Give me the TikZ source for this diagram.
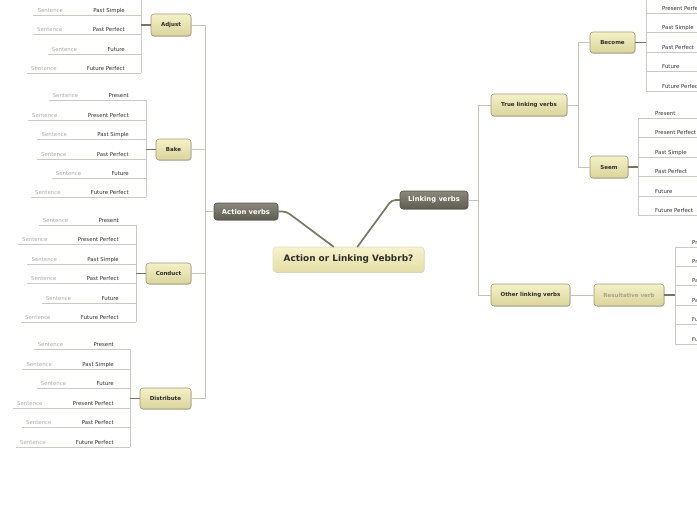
\documentclass[tikz,border=0pt]{standalone}
\usepackage{fontspec}
\setmainfont{DejaVu Sans}
\usetikzlibrary{shadows}
\definecolor{yelTop}{HTML}{F4F1C8}
\definecolor{yelBot}{HTML}{DAD49A}
\definecolor{boxborder}{HTML}{9C987C}
\definecolor{boxtext}{HTML}{2E2E2A}
\definecolor{darkTop}{HTML}{8A887A}
\definecolor{darkBot}{HTML}{5E5C50}
\definecolor{darkborder}{HTML}{55544A}
\definecolor{cenTop}{HTML}{F6F3CE}
\definecolor{cenBot}{HTML}{E4DEA4}
\definecolor{cenborder}{HTML}{E2DEB4}
\definecolor{leafgray}{HTML}{CBCAC2}
\definecolor{branchgray}{HTML}{C6C4B6}
\definecolor{stubdark}{HTML}{77745F}
\definecolor{mainlinecol}{HTML}{7A7763}
\definecolor{sentgray}{HTML}{ADADAD}
\definecolor{tensecol}{HTML}{333333}
\definecolor{resulttext}{HTML}{A8A486}
\newcommand\leafL[5]{%
  \node[tense, anchor=base east] (#1t) at (#2,#4-3) {#5};
  \node[sent, anchor=base east] (#1s) at ([xshift=-30pt]#1t.base west) {Sentence};
  \path (#1s.west) ++(-4,0) coordinate (#1b);
  \coordinate (#1y) at (0,#4);
  \coordinate (#1a) at (#1b |- #1y);
  \coordinate (#1v) at (#3,#4);
  \draw[leafline] (#1a) -- (#1v);
}
\newcommand\leafR[5]{%
  \node[tense, anchor=base west] (#1t) at (#3,#4-3) {#5};
  \coordinate (#1v) at (#2,#4);
  \coordinate (#1e) at (700,#4);
  \draw[leafline] (#1v) -- (#1e);
}
\begin{document}
\begin{tikzpicture}[x=1pt,y=-1pt,
  leafline/.style={draw=leafgray, line width=0.9pt},
  branch/.style={draw=branchgray, line width=0.9pt},
  stub/.style={draw=stubdark, line width=1.3pt},
  mainline/.style={draw=mainlinecol, line width=1.7pt, line cap=round, rounded corners=4pt},
  tense/.style={inner sep=0pt, text=tensecol, font=\fontsize{5.4}{6}\selectfont},
  sent/.style={inner sep=0pt, text=sentgray, font=\fontsize{5.4}{6}\selectfont},
  shadowed/.style={drop shadow={shadow xshift=0.6pt, shadow yshift=-0.8pt, fill=black, opacity=0.18}},
  ybox/.style={shadowed, rounded corners=3pt, draw=boxborder, line width=0.6pt, top color=yelTop, bottom color=yelBot, text=boxtext, font=\bfseries\fontsize{5.5}{6}\selectfont, inner sep=0pt},
  dbox/.style={shadowed, rounded corners=3pt, draw=darkborder, line width=0.6pt, top color=darkTop, bottom color=darkBot, text=white, font=\bfseries\fontsize{6.8}{7}\selectfont, inner sep=0pt},
  cbox/.style={shadowed, rounded corners=3pt, draw=cenborder, line width=0.6pt, top color=cenTop, bottom color=cenBot, text=boxtext, font=\bfseries\fontsize{8.9}{10}\selectfont, inner sep=0pt}
]
\clip (0,0) rectangle (697,520);
\fill[white] (0,0) rectangle (697,520);

% ---------- main nodes
\node[cbox, minimum width=151pt, minimum height=25pt] (cn) at (348.5,259.5) {Action or Linking Vebbrb?};
\node[dbox, minimum width=64pt, minimum height=17pt] (av) at (246,211.5) {Action verbs};
\node[dbox, minimum width=68pt, minimum height=18pt] (lv) at (434,200) {Linking verbs};
\coordinate (c1) at ([xshift=-15pt]cn.north);
\coordinate (c2) at ([xshift=9pt]cn.north);

% ---------- action verbs subtree boxes
\node[ybox, minimum width=40pt, minimum height=22pt] (adj) at (171,25) {Adjust};
\node[ybox, minimum width=35pt, minimum height=21pt] (bake) at (173.5,149.5) {Bake};
\node[ybox, minimum width=45pt, minimum height=21pt] (cond) at (168.5,273.5) {Conduct};
\node[ybox, minimum width=51pt, minimum height=21pt] (dist) at (165.5,398.5) {Distribute};

% ---------- linking verbs subtree boxes
\node[ybox, minimum width=76pt, minimum height=22pt] (tlv) at (529,105) {True linking verbs};
\node[ybox, minimum width=79pt, minimum height=22pt] (olv) at (530.5,295) {Other linking verbs};
\node[ybox, minimum width=45pt, minimum height=21pt] (bec) at (612.5,42.5) {Become};
\node[ybox, minimum width=38pt, minimum height=22pt] (seem) at (609,167) {Seem};
\node[ybox, minimum width=70pt, minimum height=22pt, text=resulttext] (res) at (629,295) {Resultative verb};

% ---------- main connectors
\draw[mainline] (av.east) -- ++(8,0) -- (c1);
\draw[mainline] (lv.west) -- ++(-8,0) -- (c2);

% ---------- action verbs branch
\coordinate (avx) at (205,211.5);
\coordinate (avtop) at (205,25);
\coordinate (avbot) at (205,398.5);
\draw[branch] (av.west) -- (avx);
\draw[branch] (adj.east) -- (avtop) -- (avbot) -- (dist.east);
\draw[branch] (bake.east) -- (bake.east -| avx);
\draw[branch] (cond.east) -- (cond.east -| avx);

% ---------- linking verbs branch
\coordinate (lvx) at (478,200);
\draw[branch] (lv.east) -- (lvx);
\draw[branch] (tlv.west) -- (tlv.west -| lvx) -- (olv.west -| lvx) -- (olv.west);
\coordinate (tlx) at (578,105);
\draw[branch] (tlv.east) -- (tlx);
\draw[branch] (bec.west) -- (bec.west -| tlx) -- (seem.west -| tlx) -- (seem.west);
\draw[branch] (olv.east) -- (res.west);

% ---------- Adjust leaves
\leafL{aj1}{125}{141}{15}{Past Simple}
\leafL{aj2}{125}{141}{34}{Past Perfect}
\leafL{aj3}{125}{141}{54}{Future}
\leafL{aj4}{125}{141}{73}{Future Perfect}
\coordinate (ajtop) at (141,-2);
\draw[leafline] (ajtop) -- (aj4v);
\draw[stub] (adj.west) -- (adj.west -| aj1v);

% ---------- Bake leaves
\leafL{bk1}{129}{146}{100}{Present}
\leafL{bk2}{129}{146}{120}{Present Perfect}
\leafL{bk3}{129}{146}{139}{Past Simple}
\leafL{bk4}{129}{146}{159}{Past Perfect}
\leafL{bk5}{129}{146}{178}{Future}
\leafL{bk6}{129}{146}{197}{Future Perfect}
\draw[leafline] (bk1v) -- (bk6v);
\draw[stub] (bake.west) -- (bake.west -| bk1v);

% ---------- Conduct leaves
\leafL{cd1}{119}{136}{225}{Present}
\leafL{cd2}{119}{136}{244}{Present Perfect}
\leafL{cd3}{119}{136}{264}{Past Simple}
\leafL{cd4}{119}{136}{283}{Past Perfect}
\leafL{cd5}{119}{136}{303}{Future}
\leafL{cd6}{119}{136}{322}{Future Perfect}
\draw[leafline] (cd1v) -- (cd6v);
\draw[stub] (cond.west) -- (cond.west -| cd1v);

% ---------- Distribute leaves
\leafL{ds1}{114}{130}{349}{Present}
\leafL{ds2}{114}{130}{369}{Past Simple}
\leafL{ds3}{114}{130}{388}{Future}
\leafL{ds4}{114}{130}{408}{Present Perfect}
\leafL{ds5}{114}{130}{427}{Past Perfect}
\leafL{ds6}{114}{130}{447}{Future Perfect}
\draw[leafline] (ds1v) -- (ds6v);
\draw[stub] (dist.west) -- (dist.west -| ds1v);

% ---------- Become leaves
\leafR{bc1}{646}{662}{13}{Present Perfect}
\leafR{bc2}{646}{662}{32}{Past Simple}
\leafR{bc3}{646}{662}{52}{Past Perfect}
\leafR{bc4}{646}{662}{71}{Future}
\leafR{bc5}{646}{662}{91}{Future Perfect}
\coordinate (bctop) at (646,-2);
\draw[leafline] (bctop) -- (bc5v);
\draw[stub] (bec.east) -- (bec.east -| bc1v);

% ---------- Seem leaves
\leafR{sm1}{638}{655}{118}{Present}
\leafR{sm2}{638}{655}{137}{Present Perfect}
\leafR{sm3}{638}{655}{157}{Past Simple}
\leafR{sm4}{638}{655}{176}{Past Perfect}
\leafR{sm5}{638}{655}{196}{Future}
\leafR{sm6}{638}{655}{215}{Future Perfect}
\draw[leafline] (sm1v) -- (sm6v);
\draw[stub] (seem.east) -- (seem.east -| sm1v);

% ---------- Resultative leaves
\leafR{rs1}{675}{692}{247}{Present}
\leafR{rs2}{675}{692}{266}{Present Perfect}
\leafR{rs3}{675}{692}{285}{Past Simple}
\leafR{rs4}{675}{692}{305}{Past Perfect}
\leafR{rs5}{675}{692}{324}{Future}
\leafR{rs6}{675}{692}{344}{Future Perfect}
\draw[leafline] (rs1v) -- (rs6v);
\draw[stub] (res.east) -- (res.east -| rs1v);
\end{tikzpicture}
\end{document}
